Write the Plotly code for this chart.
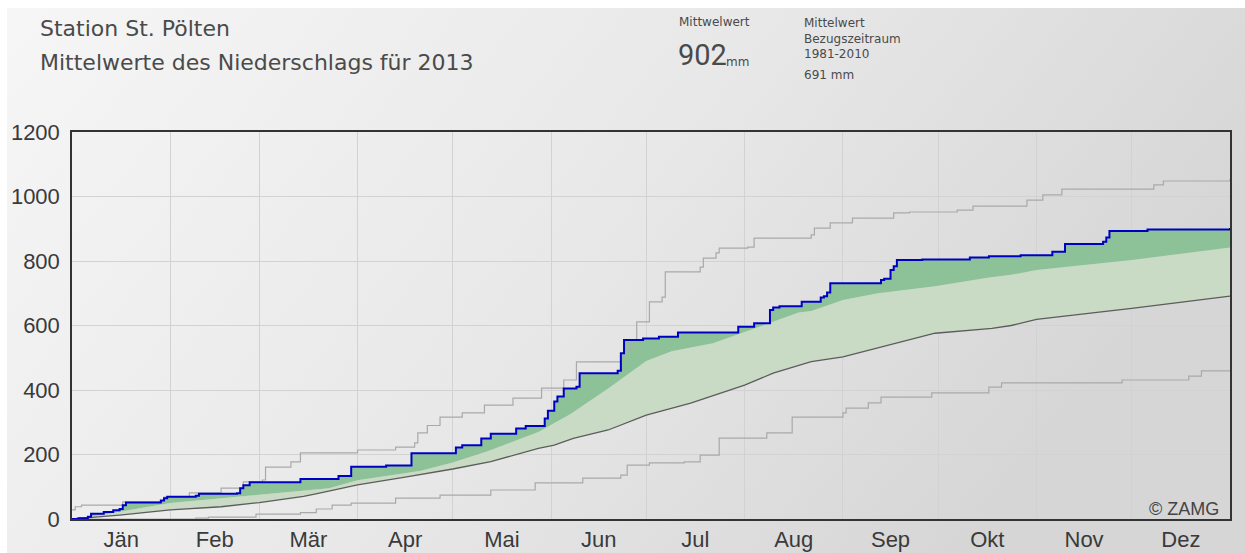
import base64
import plotly.graph_objects as go

# ---------------- data (day of year, cumulative mm) ----------------
blue_days = [0, 2, 5, 6, 10, 13, 15, 16, 17, 28, 29, 30, 39, 40, 52, 53, 54, 56, 72, 84, 88, 99, 107,
             121, 123, 129, 132, 140, 143, 149, 150, 152, 153, 155, 159, 160, 172, 173, 174, 180, 185,
             191, 210, 215, 220, 221, 223, 230, 236, 237, 238, 239, 255, 256, 258, 259, 260, 268, 283,
             289, 299, 309, 313, 325, 326, 327, 339, 365]
blue_vals = [0, 2, 7, 16, 22, 27, 31, 43, 51, 57, 64, 69, 72, 78, 80, 95, 105, 114, 124, 133, 162, 166, 204,
             222, 229, 250, 264, 281, 288, 312, 336, 364, 380, 405, 410, 452, 460, 514, 555, 560, 565,
             578, 596, 607, 648, 656, 660, 674, 687, 691, 702, 731, 741, 745, 772, 784, 803, 805, 811,
             815, 818, 829, 853, 860, 873, 893, 898, 902]

mean_days = [0, 15, 31, 47, 59, 73, 78, 90, 105, 120, 132, 147, 152, 158, 169, 181, 195, 212, 221, 229,
             233, 243, 255, 272, 290, 296, 304, 334, 365]
mean_vals = [0, 12, 28, 38, 51, 70, 80, 106, 130, 155, 178, 219, 229, 250, 276, 322, 359, 415, 452, 477,
             488, 503, 534, 576, 591, 600, 619, 653, 691]

band_days = [0, 10, 31, 59, 81, 90, 110, 120, 131, 147, 157, 169, 181, 189, 202, 212, 229, 233, 243, 254,
             272, 289, 296, 304, 334, 365]
band_vals = [0, 14, 50, 74, 95, 120, 150, 175, 210, 270, 325, 405, 490, 520, 545, 580, 640, 645, 679, 700,
             722, 749, 757, 772, 803, 842]

max_days = [0, 1, 3, 16, 29, 37, 47, 54, 60, 61, 69, 72, 90, 102, 108, 109, 112, 116, 123, 130, 139, 148,
            155, 159, 173, 174, 176, 178, 182, 186, 187, 198, 199, 203, 204, 213, 215, 233, 234, 239, 246,
            259, 264, 279, 284, 301, 306, 312, 341, 344, 365]
max_vals = [28, 38, 43, 53, 68, 81, 96, 115, 121, 161, 177, 205, 214, 223, 236, 267, 290, 316, 329, 353,
            375, 406, 431, 487, 499, 524, 555, 611, 673, 688, 766, 781, 809, 825, 840, 843, 871, 881, 902,
            918, 933, 949, 952, 958, 970, 989, 1005, 1023, 1036, 1048, 1054]

min_days = [0, 39, 43, 58, 72, 77, 82, 88, 102, 116, 132, 146, 161, 173, 175, 182, 193, 198, 204, 219,
            227, 243, 244, 251, 255, 271, 289, 293, 331, 352, 356, 365]
min_vals = [0, 3, 6, 15, 20, 31, 43, 49, 65, 74, 90, 112, 127, 136, 167, 174, 177, 198, 251, 267, 316,
            329, 344, 360, 378, 391, 409, 422, 431, 443, 459, 461]

month_starts = [31, 59, 90, 120, 151, 181, 212, 243, 273, 304, 334]
month_mids = [15.5, 45, 74.5, 105, 135.5, 166, 196.5, 227.5, 258, 288.5, 319, 349.5]
month_names = ["Jän", "Feb", "Mär", "Apr", "Mai", "Jun", "Jul", "Aug", "Sep", "Okt", "Nov", "Dez"]
y_ticks = [0, 200, 400, 600, 800, 1000, 1200]

# ---------------- layout geometry ----------------
W, H = 1245, 553
L, R, T, B = 72, 1230, 132, 519


def px(x):
    return (x - L) / (R - L)


def py(y):
    return (B - y) / (B - T)


LIGHT = "#c9dbc4"
DARK = "#8dc198"
BLUE = "#0000c4"

fig = go.Figure()
fig.add_trace(go.Scatter(x=mean_days, y=mean_vals, mode="lines", line=dict(width=0),
                         hoverinfo="skip", showlegend=False))
fig.add_trace(go.Scatter(x=band_days, y=band_vals, mode="lines", line=dict(width=0),
                         fill="tonexty", fillcolor=LIGHT, hoverinfo="skip", showlegend=False))
fig.add_trace(go.Scatter(x=blue_days, y=blue_vals, mode="lines", line=dict(width=0, shape="hv"),
                         fill="tonexty", fillcolor=DARK, hoverinfo="skip", showlegend=False))
fig.add_trace(go.Scatter(x=max_days, y=max_vals, mode="lines",
                         line=dict(color="#a9a9a9", width=1.2, shape="hv"), showlegend=False))
fig.add_trace(go.Scatter(x=min_days, y=min_vals, mode="lines",
                         line=dict(color="#a9a9a9", width=1.2, shape="hv"), showlegend=False))
fig.add_trace(go.Scatter(x=mean_days, y=mean_vals, mode="lines",
                         line=dict(color="#5c5c5c", width=1.3), showlegend=False))
fig.add_trace(go.Scatter(x=blue_days, y=blue_vals, mode="lines",
                         line=dict(color=BLUE, width=2, shape="hv"), showlegend=False))

svg = ('<svg xmlns="http://www.w3.org/2000/svg" width="1238" height="545" preserveAspectRatio="none">'
       '<defs><linearGradient id="g" x1="0" y1="0" x2="1" y2="0.35">'
       '<stop offset="0" stop-color="#f6f6f6"/><stop offset="0.55" stop-color="#e8e8e8"/>'
       '<stop offset="1" stop-color="#d6d6d6"/></linearGradient></defs>'
       '<rect width="1238" height="545" fill="url(#g)"/></svg>')
src = "data:image/svg+xml;base64," + base64.b64encode(svg.encode()).decode()

fig.add_layout_image(dict(source=src, xref="paper", yref="paper", x=px(7), y=py(8),
                          sizex=(W - 7) / (R - L), sizey=(H - 8) / (B - T),
                          sizing="stretch", xanchor="left", yanchor="top", layer="below"))

TXT = "#4a4a4a"
WIDEF = "'DejaVu Sans', Verdana, sans-serif"
NUMF = "Roboto, 'Open Sans', sans-serif"
ann = [
    dict(text="Station St. Pölten", x=38, y=29, size=22, fam=WIDEF),
    dict(text="Mittelwerte des Niederschlags für 2013", x=38, y=62, size=22, fam=WIDEF),
    dict(text="Mittwelwert", x=677, y=22, size=12, fam=WIDEF),
    dict(text="902", x=676, y=55, size=29, fam=NUMF),
    dict(text="mm", x=724, y=62, size=12, fam=WIDEF),
    dict(text="Mittelwert", x=802, y=23, size=12, fam=WIDEF),
    dict(text="Bezugszeitraum", x=802, y=39, size=12, fam=WIDEF),
    dict(text="1981-2010", x=802, y=54, size=12, fam=WIDEF),
    dict(text="691 mm", x=802, y=75, size=12, fam=WIDEF),
]
for a in ann:
    fig.add_annotation(text=a["text"], x=px(a["x"]), y=py(a["y"]), xref="paper", yref="paper",
                       xanchor="left", yanchor="middle", showarrow=False,
                       font=dict(family=a["fam"], size=a["size"], color=TXT))

fig.add_annotation(text="© ZAMG", x=px(1221), y=py(509), xref="paper", yref="paper",
                   xanchor="right", yanchor="middle", showarrow=False,
                   font=dict(family="Liberation Sans, Arial", size=18, color="#444444"))

fig.update_layout(
    width=W, height=H, autosize=False,
    margin=dict(l=L, r=W - R, t=T, b=H - B, pad=0),
    paper_bgcolor="white", plot_bgcolor="rgba(0,0,0,0)",
    xaxis=dict(range=[0, 365], tickmode="array", tickvals=month_mids, ticktext=month_names,
               showgrid=False, zeroline=False, showline=True, linecolor="#333333", linewidth=1.5,
               mirror=True, ticks="", automargin=False,
               tickfont=dict(family="Liberation Sans, Arial", size=22, color="#3a3a3a"),
               ticklabelstandoff=0,
               minor=dict(tickmode="array", tickvals=month_starts, showgrid=True,
                          gridcolor="#d2d2d2", gridwidth=1, ticks="")),
    yaxis=dict(range=[0, 1200], tickmode="array", tickvals=y_ticks,
               showgrid=True, gridcolor="#d2d2d2", gridwidth=1, zeroline=False,
               showline=True, linecolor="#333333", linewidth=1.5, mirror=True, automargin=False,
               ticks="", tickfont=dict(family="Liberation Sans, Arial", size=22, color="#3a3a3a"),
               ticklabelstandoff=6),
)

fig.write_html("out.html", config={"displayModeBar": False},
               post_script="document.body.style.margin='0';document.body.style.overflow='hidden';")
